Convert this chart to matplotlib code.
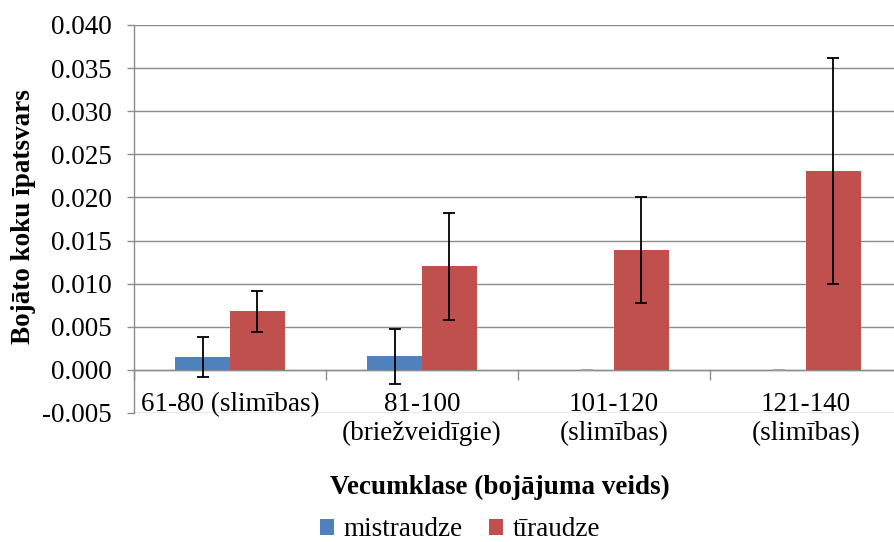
import matplotlib
matplotlib.use("Agg")
import matplotlib.pyplot as plt
import numpy as np

categories = ["61-80 (slimības)", "81-100\n(briežveidīgie)", "101-120\n(slimības)", "121-140\n(slimības)"]
mistraudze = [0.0015, 0.0016, 0.0, 0.0]
mistraudze_err = [0.0023, 0.0032, 0.0, 0.0]
tiraudze = [0.0068, 0.0120, 0.0139, 0.0231]
tiraudze_err = [0.0024, 0.0062, 0.0061, 0.0131]
yticks = [-0.005, 0.000, 0.005, 0.010, 0.015, 0.020, 0.025, 0.030, 0.035, 0.040]

plt.rcParams['font.family'] = ['Liberation Serif', 'DejaVu Serif']
FS = 19.5

W, H = 894, 542
fig = plt.figure(figsize=(W/100, H/100), dpi=100)
left, right, top, bottom = 134, 902, 25, 413
ax = fig.add_axes([left/W, 1 - bottom/H, (right-left)/W, (bottom-top)/H])

x = np.arange(len(categories))
bw = 0.286
blue = "#4F81BD"
red = "#C0504D"
grid = "#8C8C8C"

ax.bar(x - bw/2, mistraudze, bw, color=blue, label="mistraudze", zorder=3)
ax.bar(x + bw/2, tiraudze, bw, color=red, label="tīraudze", zorder=3)

for xi, v, e in zip(x, mistraudze, mistraudze_err):
    c = "black" if e > 0 else "#A0A0A0"
    ax.errorbar(xi - bw/2, v, yerr=e, fmt="none", ecolor=c, elinewidth=1.3,
                capsize=4.5, capthick=1.3, zorder=4)
ax.errorbar(x + bw/2, tiraudze, yerr=tiraudze_err, fmt="none", ecolor="black",
            elinewidth=1.3, capsize=4.5, capthick=1.3, zorder=4)

ax.set_ylim(-0.005, 0.040)
ax.set_xlim(-0.5, len(categories) - 0.5)
ax.set_yticks(yticks)
ax.set_yticklabels([f"{t:.3f}" for t in yticks], fontsize=FS)
ax.yaxis.grid(True, color=grid, linewidth=1.0, zorder=0)
ax.set_axisbelow(True)

for s in ["top", "right"]:
    ax.spines[s].set_visible(False)
ax.spines["left"].set_color(grid)
ax.spines["left"].set_linewidth(1.0)
ax.spines["bottom"].set_position(("data", 0))
ax.spines["bottom"].set_color(grid)
ax.spines["bottom"].set_linewidth(1.0)

ax.tick_params(axis="y", direction="out", length=5, color=grid, width=1.0, pad=11)
ax.set_xticks(np.arange(len(categories) + 1) - 0.5)
ax.set_xticklabels([])
ax.tick_params(axis="x", which="major", direction="out", length=7, color=grid, width=1.0)
ax.set_xticks(x, minor=True)
ax.set_xticklabels(categories, minor=True, fontsize=FS, linespacing=1.2)
ax.tick_params(axis="x", which="minor", length=0, pad=16)

fig.text(24/W, 1 - 217/H, "Bojāto koku īpatsvars", fontsize=FS, fontweight="bold",
         rotation=90, ha="center", va="center")
fig.text(500/W, 1 - 487/H, "Vecumklase (bojājuma veids)", fontsize=FS,
         fontweight="bold", ha="center", va="center")

leg = fig.legend(loc="center", bbox_to_anchor=(460/W, 1 - 530/H), ncol=2, frameon=False,
                 fontsize=FS, handlelength=0.5, handleheight=0.5, handletextpad=0.35,
                 columnspacing=1.0, borderaxespad=0, borderpad=0)

fig.savefig("out.png", dpi=100)
